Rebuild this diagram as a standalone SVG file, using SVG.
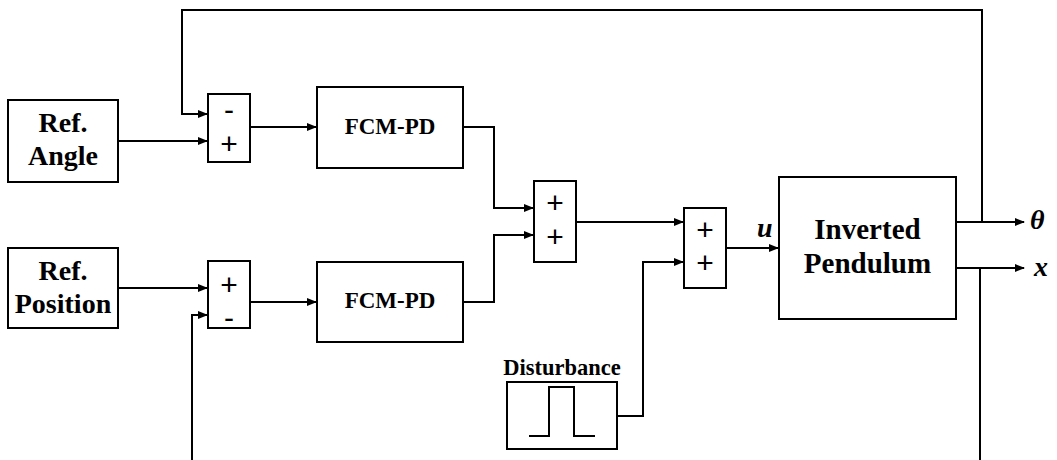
<svg xmlns="http://www.w3.org/2000/svg" width="1057" height="460" viewBox="0 0 1057 460">
<style>
.box{fill:#fff;stroke:#000;stroke-width:2}
.ln{fill:none;stroke:#000;stroke-width:2}
.lbl{font-family:"Liberation Serif","Times New Roman",serif;font-weight:bold;text-anchor:middle;fill:#000}
.sgn{font-family:"Liberation Sans",Arial,sans-serif;font-size:30px;text-anchor:middle;fill:#000}
.var{font-family:"Liberation Serif","Times New Roman",serif;font-weight:bold;font-style:italic;font-size:28px;fill:#000}
</style>
<defs>
<marker id="ah" markerWidth="10" markerHeight="8" refX="9" refY="4" orient="auto" markerUnits="userSpaceOnUse">
<path d="M0,0 L10,4 L0,8 Z" fill="#000"/>
</marker>
</defs>
<g id="connectors">
<path class="ln" d="M982,222 V10 H182 V114 H207" marker-end="url(#ah)"/>
<path class="ln" d="M118,141 H207" marker-end="url(#ah)"/>
<path class="ln" d="M250,127 H316" marker-end="url(#ah)"/>
<path class="ln" d="M463,127 H494 V208 H533" marker-end="url(#ah)"/>
<path class="ln" d="M118,288 H207" marker-end="url(#ah)"/>
<path class="ln" d="M192,460 V315 H207" marker-end="url(#ah)"/>
<path class="ln" d="M250,302 H316" marker-end="url(#ah)"/>
<path class="ln" d="M463,302 H494 V235 H533" marker-end="url(#ah)"/>
<path class="ln" d="M576,222 H683" marker-end="url(#ah)"/>
<path class="ln" d="M617,416 H643 V262 H683" marker-end="url(#ah)"/>
<path class="ln" d="M726,248 H778" marker-end="url(#ah)"/>
<path class="ln" d="M956,222 H1024" marker-end="url(#ah)"/>
<path class="ln" d="M956,268 H1024" marker-end="url(#ah)"/>
<path class="ln" d="M980,268 V460"/>
</g>
<g id="ref-angle">
<rect class="box" x="8" y="100" width="110" height="82"/>
<text class="lbl" x="63" y="132" font-size="28">Ref.</text>
<text class="lbl" x="63" y="165" font-size="28">Angle</text>
</g>
<g id="ref-position">
<rect class="box" x="8" y="248" width="110" height="80"/>
<text class="lbl" x="63" y="280" font-size="28">Ref.</text>
<text class="lbl" x="63" y="313" font-size="28">Position</text>
</g>
<g id="sum1">
<rect class="box" x="208" y="94" width="42" height="68"/>
<text class="sgn" x="229" y="120">-</text>
<text class="sgn" x="229" y="154">+</text>
</g>
<g id="sum2">
<rect class="box" x="208" y="261" width="42" height="67"/>
<text class="sgn" x="229" y="295">+</text>
<text class="sgn" x="229" y="328">-</text>
</g>
<g id="fcm1">
<rect class="box" x="317" y="87" width="146" height="81"/>
<text class="lbl" x="390" y="134" font-size="23">FCM-PD</text>
</g>
<g id="fcm2">
<rect class="box" x="317" y="262" width="146" height="80"/>
<text class="lbl" x="390" y="308" font-size="23">FCM-PD</text>
</g>
<g id="sum3">
<rect class="box" x="534" y="181" width="42" height="81"/>
<text class="sgn" x="555" y="213">+</text>
<text class="sgn" x="555" y="247">+</text>
</g>
<g id="sum4">
<rect class="box" x="684" y="208" width="42" height="80"/>
<text class="sgn" x="705" y="240">+</text>
<text class="sgn" x="705" y="273">+</text>
</g>
<g id="disturbance">
<text class="lbl" x="562" y="375" font-size="22.5">Disturbance</text>
<rect class="box" x="507" y="382" width="110" height="67"/>
<path class="ln" d="M529,436 H549 V387 H574 V436 H595"/>
</g>
<g id="pendulum">
<rect class="box" x="779" y="177" width="177" height="142"/>
<text class="lbl" x="867.5" y="239" font-size="29">Inverted</text>
<text class="lbl" x="867.5" y="273" font-size="29">Pendulum</text>
</g>
<g id="labels">
<text class="var" x="757" y="237">u</text>
<text class="var" x="1030" y="229">θ</text>
<text class="var" x="1034" y="276">x</text>
</g>
</svg>
